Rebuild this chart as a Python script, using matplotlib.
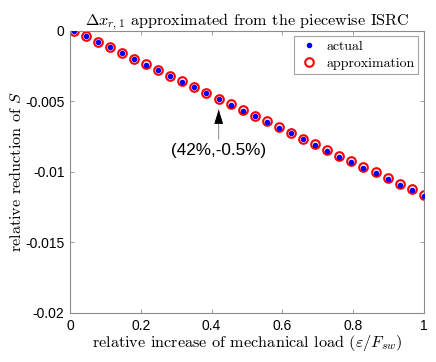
import matplotlib
matplotlib.use("Agg")
import matplotlib.pyplot as plt

# load step (fraction of F_sw)
x_load = [0.01, 0.044, 0.078, 0.112, 0.147, 0.181, 0.215, 0.249, 0.283, 0.317,
          0.351, 0.385, 0.42, 0.454, 0.488, 0.522, 0.556, 0.59, 0.624, 0.659,
          0.693, 0.727, 0.761, 0.795, 0.829, 0.863, 0.898, 0.932, 0.966, 1.0]
actual = [-0.00001, -0.00039, -0.00079, -0.00119, -0.00159, -0.00202, -0.00242,
          -0.00282, -0.00322, -0.00363, -0.00402, -0.00445, -0.00487, -0.00525,
          -0.00568, -0.00606, -0.00648, -0.0069, -0.00728, -0.0077, -0.00809,
          -0.00851, -0.00894, -0.00931, -0.00972, -0.01011, -0.01052, -0.01094,
          -0.01132, -0.01172]
approx = [-0.00001, -0.00038, -0.00078, -0.00118, -0.00158, -0.002, -0.0024,
          -0.0028, -0.0032, -0.0036, -0.00399, -0.00442, -0.00484, -0.00522,
          -0.00564, -0.00602, -0.00644, -0.00686, -0.00724, -0.00765, -0.00804,
          -0.00846, -0.00888, -0.00925, -0.00966, -0.01005, -0.01046, -0.01087,
          -0.01125, -0.01165]

xticks = [0, 0.2, 0.4, 0.6, 0.8, 1]
xticklabels = ['0', '0.2', '0.4', '0.6', '0.8', '1']
yticks = [0, -0.005, -0.01, -0.015, -0.02]
yticklabels = ['0', '-0.005', '-0.01', '-0.015', '-0.02']

plt.rcParams['mathtext.fontset'] = 'cm'
serif = 'cmr10'
sans = 'Liberation Sans'
gray = '#8c8c8c'

fig = plt.figure(figsize=(4.36, 3.62), dpi=100)
ax = fig.add_axes([0.1606, 0.1354, 0.8119, 0.7803])

ax.plot(x_load, actual, 'o', color='#0000ff', markersize=4, markeredgewidth=0,
        label='actual', zorder=3)
ax.plot(x_load, approx, 'o', markerfacecolor='none', markeredgecolor='#ff0000',
        markersize=6.2, markeredgewidth=1.5, label='approximation', zorder=2)

ax.set_xlim(0, 1)
ax.set_ylim(-0.02, 0)
ax.set_xticks(xticks)
ax.set_xticklabels(xticklabels, family=sans, fontsize=10)
ax.set_yticks(yticks)
ax.set_yticklabels(yticklabels, family=sans, fontsize=10)
ax.tick_params(direction='in', length=3, width=0.6, color=gray, top=True,
               right=True, pad=4)
for s in ax.spines.values():
    s.set_color(gray)
    s.set_linewidth(0.8)

ax.set_title(r'$\Delta x_{r,1}$ approximated from the piecewise ISRC',
             family=serif, fontsize=11.7, pad=4)
ax.set_xlabel(r'relative increase of mechanical load ($\varepsilon/F_{sw}$)',
              family=serif, fontsize=11.7, labelpad=0)
ax.set_ylabel(r'relative reduction of $S$', family=serif, fontsize=11.7,
              labelpad=1)

ax.annotate('', xy=(0.42, -0.0054), xytext=(0.42, -0.0079),
            arrowprops=dict(arrowstyle='-', color='#777777', lw=0.6))
ax.annotate('', xy=(0.42, -0.0054), xytext=(0.42, -0.0064),
            arrowprops=dict(arrowstyle='-|>,head_length=0.9,head_width=0.28',
                            color='black', lw=0.6))
ax.text(0.42, -0.00846, '(42%,-0.5%)', family=sans, fontsize=12.3,
        ha='center', va='center')

leg = ax.legend(loc='upper right', prop={'family': serif, 'size': 10},
                frameon=True, fancybox=False, edgecolor=gray,
                borderaxespad=0.4, handletextpad=0.5, labelspacing=0.3,
                borderpad=0.3, handlelength=1.5)
leg.get_frame().set_linewidth(0.8)

fig.savefig('out.png', dpi=100)
